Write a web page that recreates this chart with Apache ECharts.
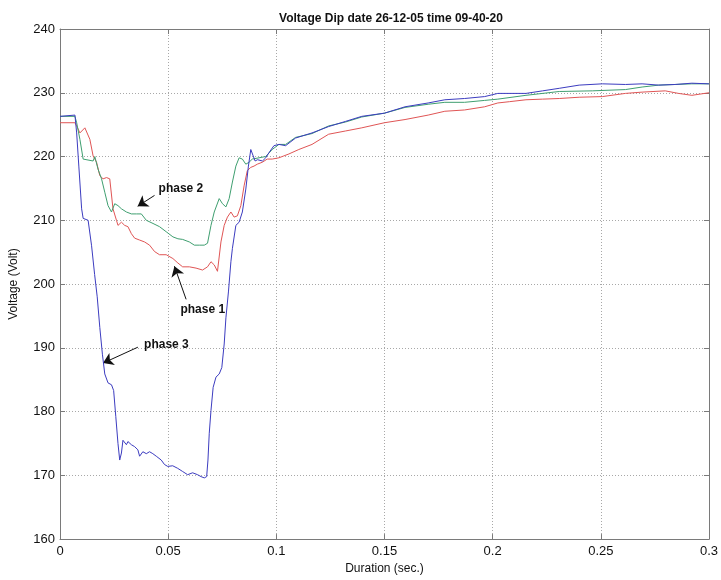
<!DOCTYPE html>
<html>
<head>
<meta charset="utf-8">
<script src="https://cdn.jsdelivr.net/npm/echarts@6/dist/echarts.min.js"></script>
<style>html,body{margin:0;padding:0;background:#fff}#c{width:721px;height:580px}</style>
</head>
<body>
<div id="c"></div>
<script>
const titleText = 'Voltage Dip date 26-12-05 time 09-40-20';
const xName = 'Duration (sec.)';
const yName = 'Voltage (Volt)';
const xTicks = [0, 0.05, 0.1, 0.15, 0.2, 0.25, 0.3];
const yTicks = [160, 170, 180, 190, 200, 210, 220, 230, 240];

// phase 1 (red): [time s, voltage V]
const phase1 = [[0,225.3],[0.0069,225.3],[0.0077,224.8],[0.0092,223.7],[0.0100,224.0],[0.0115,224.5],[0.0123,224.8],[0.0138,222.7],[0.0153,220.1],[0.0169,219.1],[0.0184,217.0],[0.0199,216.5],[0.0215,216.7],[0.0230,216.5],[0.0245,211.8],[0.0261,210.0],[0.0268,209.2],[0.0284,209.7],[0.0299,209.2],[0.0314,209.0],[0.0330,207.9],[0.0345,207.2],[0.0368,206.9],[0.0391,206.6],[0.0414,206.1],[0.0437,205.1],[0.0460,204.6],[0.0491,204.6],[0.0522,204.0],[0.0545,203.3],[0.0567,202.7],[0.0598,202.7],[0.0629,202.5],[0.0659,202.2],[0.0682,202.7],[0.0698,203.5],[0.0713,203.0],[0.0728,202.0],[0.0744,206.6],[0.0759,209.2],[0.0774,210.5],[0.0790,211.3],[0.0805,210.5],[0.0820,210.7],[0.0836,212.3],[0.0851,215.4],[0.0866,217.8],[0.0882,218.3],[0.0897,218.5],[0.0912,218.8],[0.0935,219.1],[0.0958,219.6],[0.0981,219.6],[0.1012,219.8],[0.1035,220.1],[0.1058,220.4],[0.1104,221.1],[0.1165,221.9],[0.1242,223.5],[0.1319,224.0],[0.1395,224.5],[0.1500,225.3],[0.1595,225.8],[0.1702,226.5],[0.1779,227.1],[0.1870,227.3],[0.1963,227.8],[0.2024,228.4],[0.2077,228.6],[0.2154,228.9],[0.2231,229.0],[0.2308,229.1],[0.2400,229.3],[0.2507,229.4],[0.2614,229.9],[0.2691,230.1],[0.2798,230.3],[0.2859,229.9],[0.2921,229.6],[0.3000,230.0]];

// phase 2 (green)
const phase2 = [[0,226.3],[0.0069,226.3],[0.0077,225.3],[0.0092,222.7],[0.0107,219.6],[0.0115,219.3],[0.0153,219.3],[0.0161,220.0],[0.0176,218.0],[0.0192,216.5],[0.0207,214.4],[0.0222,212.3],[0.0238,211.3],[0.0253,212.6],[0.0268,212.3],[0.0284,211.8],[0.0307,211.3],[0.0330,211.0],[0.0353,211.0],[0.0376,211.0],[0.0399,210.0],[0.0430,209.5],[0.0460,209.0],[0.0491,208.2],[0.0522,207.4],[0.0545,207.1],[0.0567,207.0],[0.0598,206.6],[0.0621,206.1],[0.0644,206.1],[0.0667,206.1],[0.0682,206.4],[0.0698,209.2],[0.0713,211.3],[0.0736,213.4],[0.0751,212.6],[0.0767,212.1],[0.0782,213.4],[0.0797,216.0],[0.0813,218.5],[0.0828,219.8],[0.0843,219.6],[0.0859,218.8],[0.0874,219.1],[0.0889,219.6],[0.0920,219.8],[0.0951,220.0],[0.0981,221.1],[0.1012,221.9],[0.1043,221.9],[0.1089,223.0],[0.1165,223.6],[0.1242,224.8],[0.1319,225.4],[0.1395,226.2],[0.1500,226.8],[0.1595,227.7],[0.1702,228.2],[0.1779,228.5],[0.1870,228.5],[0.1963,228.8],[0.2024,229.0],[0.2154,229.6],[0.2308,230.2],[0.2461,230.3],[0.2614,230.5],[0.2691,230.9],[0.2768,231.2],[0.2921,231.4],[0.3000,231.4]];

// phase 3 (blue)
const phase3 = [[0,226.3],[0.0069,226.5],[0.0077,223.7],[0.0087,218.5],[0.0100,211.8],[0.0107,210.3],[0.0130,210.0],[0.0138,209.7],[0.0146,206.0],[0.0160,201.5],[0.0172,198.0],[0.0184,193.2],[0.0196,189.0],[0.0207,185.9],[0.0222,184.5],[0.0238,184.2],[0.0248,183.3],[0.0258,179.2],[0.0268,175.0],[0.0276,172.4],[0.0284,173.5],[0.0291,175.5],[0.0307,174.8],[0.0314,175.3],[0.0330,174.8],[0.0345,174.5],[0.0360,174.0],[0.0368,173.0],[0.0383,173.7],[0.0399,173.4],[0.0414,173.7],[0.0429,173.4],[0.0445,173.0],[0.0468,172.4],[0.0483,171.7],[0.0498,171.4],[0.0521,171.5],[0.0544,171.1],[0.0567,170.6],[0.0590,170.1],[0.0613,170.4],[0.0636,170.1],[0.0652,169.8],[0.0667,169.6],[0.0678,169.8],[0.0684,172.4],[0.0690,176.6],[0.0698,180.2],[0.0708,183.8],[0.0721,185.4],[0.0736,185.9],[0.0748,186.9],[0.0759,190.6],[0.0767,194.7],[0.0779,198.9],[0.0790,203.5],[0.0797,205.6],[0.0813,209.2],[0.0828,209.7],[0.0843,211.3],[0.0859,214.9],[0.0871,218.5],[0.0882,221.1],[0.0887,221.4],[0.0893,220.1],[0.0902,219.3],[0.0913,219.5],[0.0936,219.3],[0.0951,219.8],[0.0966,220.6],[0.0989,221.7],[0.1012,221.9],[0.1043,221.7],[0.1089,222.9],[0.1165,223.7],[0.1242,224.7],[0.1319,225.5],[0.1395,226.3],[0.1500,226.8],[0.1595,227.8],[0.1702,228.4],[0.1779,228.9],[0.1870,229.1],[0.1963,229.4],[0.2024,229.9],[0.2154,229.9],[0.2231,230.3],[0.2308,230.7],[0.2400,231.2],[0.2507,231.4],[0.2614,231.3],[0.2691,231.4],[0.2768,231.2],[0.2844,231.3],[0.2921,231.5],[0.3000,231.4]];

// annotation labels (data coordinates): text centre, arrow tail, arrow tip
const labelNames = ['phase 1', 'phase 2', 'phase 3'];
const labelAt = [[0.0660,196.0],[0.0559,215.0],[0.0492,190.5]];
const arrowFrom = [[0.0583,197.6],[0.0437,213.9],[0.0360,190.1]];
const arrowTo = [[0.0529,202.8],[0.0359,212.2],[0.0199,187.6]];

const colors = ['#e05555', '#3f9f70', '#3c3cc0'];
const seriesData = [phase1, phase2, phase3];

const FONT = '"Liberation Sans", Arial, sans-serif';
const axisGray = '#7a7a7a';

function annot(i) {
  return {
    markLine: {
      silent: true, animation: false,
      symbol: ['none', 'arrow'], symbolSize: 10,
      label: {show: false},
      lineStyle: {color: '#111', width: 1, type: 'solid'},
      itemStyle: {color: '#111'},
      emphasis: {disabled: true},
      data: [[{coord: arrowFrom[i], symbol: 'none'}, {coord: arrowTo[i], symbol: 'arrow', symbolSize: 10, itemStyle: {color: '#111'}}]]
    },
    markPoint: {
      silent: true, animation: false,
      symbol: 'circle', symbolSize: 0,
      label: {show: true, position: 'inside', formatter: labelNames[i], color: '#111',
              fontFamily: FONT, fontWeight: 'bold', fontSize: 12},
      itemStyle: {color: 'transparent'},
      data: [{coord: labelAt[i]}]
    }
  };
}

const series = seriesData.map((d, i) => Object.assign({
  type: 'line', data: d, showSymbol: false, symbol: 'none',
  lineStyle: {color: colors[i], width: 1}, itemStyle: {color: colors[i]},
  z: 3 + i
}, annot(i)));

const splitLine = {show: true, lineStyle: {color: '#a8a8a8', type: [1, 2], width: 1}};

const chart = echarts.init(document.getElementById('c'), null, {renderer: 'canvas'});
chart.setOption({
  animation: false,
  backgroundColor: '#fff',
  title: {
    text: titleText, left: 386, top: 8, textAlign: 'center',
    textStyle: {fontFamily: FONT, fontWeight: 'bold', fontSize: 12, color: '#111'}
  },
  grid: {left: 60, right: 9, top: 29, bottom: 37, show: false},
  xAxis: [{
    type: 'value', min: xTicks[0], max: xTicks[xTicks.length - 1], interval: 0.05,
    name: xName, nameLocation: 'middle', nameGap: 23,
    nameTextStyle: {fontFamily: FONT, fontSize: 12, color: '#111'},
    axisLine: {show: true, lineStyle: {color: axisGray, width: 1}},
    axisTick: {show: true, inside: true, length: 5, lineStyle: {color: axisGray}},
    axisLabel: {fontFamily: FONT, fontSize: 13, color: '#111', margin: 6},
    splitLine: splitLine
  }, {
    type: 'value', position: 'top', min: xTicks[0], max: xTicks[xTicks.length - 1], interval: 0.05,
    axisLine: {show: true, onZero: false, lineStyle: {color: axisGray, width: 1}},
    axisTick: {show: true, inside: true, length: 5, lineStyle: {color: axisGray}},
    axisLabel: {show: false}, splitLine: {show: false}
  }],
  yAxis: [{
    type: 'value', min: yTicks[0], max: yTicks[yTicks.length - 1], interval: 10,
    name: yName, nameLocation: 'middle', nameGap: 40,
    nameTextStyle: {fontFamily: FONT, fontSize: 12, color: '#111'},
    axisLine: {show: true, lineStyle: {color: axisGray, width: 1}},
    axisTick: {show: true, inside: true, length: 5, lineStyle: {color: axisGray}},
    axisLabel: {fontFamily: FONT, fontSize: 13, color: '#111', margin: 5},
    splitLine: splitLine
  }, {
    type: 'value', position: 'right', min: yTicks[0], max: yTicks[yTicks.length - 1], interval: 10,
    axisLine: {show: true, onZero: false, lineStyle: {color: axisGray, width: 1}},
    axisTick: {show: true, inside: true, length: 5, lineStyle: {color: axisGray}},
    axisLabel: {show: false}, splitLine: {show: false}
  }],
  series: series
});
</script>
</body>
</html>
